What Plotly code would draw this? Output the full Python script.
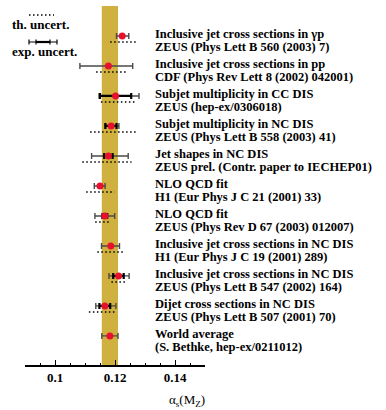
import plotly.graph_objects as go

# ---------------- data ----------------
titles = [
    "Inclusive jet cross sections in γp",
    "Inclusive jet cross sections in pp",
    "Subjet multiplicity in CC DIS",
    "Subjet multiplicity in NC DIS",
    "Jet shapes in NC DIS",
    "NLO QCD fit",
    "NLO QCD fit",
    "Inclusive jet cross sections in NC DIS",
    "Inclusive jet cross sections in NC DIS",
    "Dijet cross sections in NC DIS",
    "World average",
]
refs = [
    "ZEUS (Phys Lett B 560 (2003) 7)",
    "CDF (Phys Rev Lett 8 (2002) 042001)",
    "ZEUS (hep-ex/0306018)",
    "ZEUS (Phys Lett B 558 (2003) 41)",
    "ZEUS prel. (Contr. paper to IECHEP01)",
    "H1 (Eur Phys J C 21 (2001) 33)",
    "ZEUS (Phys Rev D 67 (2003) 012007)",
    "H1 (Eur Phys J C 19 (2001) 289)",
    "ZEUS (Phys Lett B 547 (2002) 164)",
    "ZEUS (Phys Lett B 507 (2001) 70)",
    "(S. Bethke, hep-ex/0211012)",
]
alphas = [0.1224, 0.1178, 0.1202, 0.1187, 0.1178, 0.1150, 0.1166, 0.1186, 0.1212, 0.1166, 0.1183]
# statistical (inner) errors: None where not shown
stat_lo = [None, None, 0.1150, 0.1168, 0.1164, None, 0.1158, None, 0.1194, 0.1148, None]
stat_hi = [None, None, 0.1254, 0.1205, 0.1192, None, 0.1174, None, 0.1229, 0.1184, None]
# total experimental errors
exp_lo = [0.1205, 0.1083, 0.1147, 0.1167, 0.1122, 0.1131, 0.1133, 0.1155, 0.1180, 0.1136, 0.1156]
exp_hi = [0.1246, 0.1259, 0.1280, 0.1213, 0.1244, 0.1167, 0.1199, 0.1215, 0.1247, 0.1203, 0.1210]
# theoretical uncertainties (dotted)
th_lo = [0.1184, 0.1137, 0.1153, 0.1117, 0.1091, 0.1104, 0.1134, 0.1141, 0.1188, 0.1113, None]
th_hi = [0.1270, 0.1243, 0.1265, 0.1270, 0.1255, 0.1198, 0.1187, 0.1234, 0.1237, 0.1206, None]
world_avg = 0.1183
world_err = 0.0027

x_range = [0.09, 0.15]
tick_vals = [0.1, 0.12, 0.14]
tick_text = ["0.1", "0.12", "0.14"]

FONT = "Liberation Serif"
RED = "#e8112d"
BAND = "#d0b03e"

n = len(alphas)
rows = list(range(n))

fig = go.Figure()

# world average band
fig.add_shape(type="rect", xref="x", yref="paper",
              x0=world_avg - world_err, x1=world_avg + world_err, y0=0, y1=1,
              fillcolor=BAND, line_width=0, layer="below")

# theory dotted lines
for i in rows:
    if th_lo[i] is None:
        continue
    fig.add_trace(go.Scatter(
        x=[th_lo[i], th_hi[i]], y=[i + 0.2, i + 0.2], mode="lines",
        line=dict(color="black", width=1.5, dash="1.5px,2.5px"),
        hoverinfo="skip", showlegend=False))

# outer (total experimental) error bars
fig.add_trace(go.Scatter(
    x=alphas, y=rows, mode="markers",
    marker=dict(size=1, color="rgba(0,0,0,0)"),
    error_x=dict(type="data", symmetric=False,
                 array=[exp_hi[i] - alphas[i] for i in rows],
                 arrayminus=[alphas[i] - exp_lo[i] for i in rows],
                 color="#4a4a4a", thickness=1.4, width=3),
    showlegend=False, hoverinfo="skip"))

# inner (statistical) error bars
si = [i for i in rows if stat_lo[i] is not None]
fig.add_trace(go.Scatter(
    x=[alphas[i] for i in si], y=si, mode="markers",
    marker=dict(size=1, color="rgba(0,0,0,0)"),
    error_x=dict(type="data", symmetric=False,
                 array=[stat_hi[i] - alphas[i] for i in si],
                 arrayminus=[alphas[i] - stat_lo[i] for i in si],
                 color="black", thickness=2.2, width=3),
    showlegend=False, hoverinfo="skip"))

# central values
fig.add_trace(go.Scatter(
    x=alphas, y=rows, mode="markers",
    marker=dict(size=7, color=RED, line_width=0),
    showlegend=False))

# labels
for i in rows:
    fig.add_annotation(x=0.1327, y=i - 0.06, xref="x", yref="y", text="<b>%s</b>" % titles[i],
                       showarrow=False, xanchor="left", yanchor="middle",
                       font=dict(family=FONT, size=12.5, color="black"))
    fig.add_annotation(x=0.1327, y=i + 0.37, xref="x", yref="y", text="<b>%s</b>" % refs[i],
                       showarrow=False, xanchor="left", yanchor="middle",
                       font=dict(family=FONT, size=12.5, color="black"))

# legend (drawn by hand, paper coordinates)
def px(x):
    return (x - 25) / 180.0

def py(y):
    return (365 - y) / 359.0

fig.add_shape(type="line", xref="paper", yref="paper", x0=px(29), x1=px(54), y0=py(15), y1=py(15),
              line=dict(color="black", width=1.5, dash="1.5px,2.5px"))
fig.add_shape(type="line", xref="paper", yref="paper", x0=px(29), x1=px(57), y0=py(42), y1=py(42),
              line=dict(color="#4a4a4a", width=1.4))
fig.add_shape(type="line", xref="paper", yref="paper", x0=px(36), x1=px(50), y0=py(42), y1=py(42),
              line=dict(color="black", width=2.2))
for cx in (29, 36, 50, 57):
    fig.add_shape(type="line", xref="paper", yref="paper", x0=px(cx), x1=px(cx),
                  y0=py(39.5), y1=py(44.5), line=dict(color="black", width=1.2))
fig.add_annotation(x=px(10), y=py(24), xref="paper", yref="paper", text="<b>th. uncert.</b>",
                   showarrow=False, xanchor="left", yanchor="middle",
                   font=dict(family=FONT, size=13, color="black"))
fig.add_annotation(x=px(10), y=py(52), xref="paper", yref="paper", text="<b>exp. uncert.</b>",
                   showarrow=False, xanchor="left", yanchor="middle",
                   font=dict(family=FONT, size=13, color="black"))

# axis title
fig.add_annotation(x=1.01, y=py(400), xref="paper", yref="paper",
                   text="α<sub>s</sub>(M<sub>Z</sub>)",
                   showarrow=False, xanchor="right", yanchor="middle",
                   font=dict(family=FONT, size=13, color="black"))

fig.update_layout(
    width=386, height=410,
    margin=dict(l=25, r=181, t=6, b=45),
    paper_bgcolor="white", plot_bgcolor="white",
    showlegend=False,
    xaxis=dict(range=x_range, tickvals=tick_vals, ticktext=tick_text,
               ticks="inside", ticklen=5, tickwidth=1, tickcolor="black",
               showline=True, linecolor="black", linewidth=1.5,
               showgrid=False, zeroline=False,
               tickfont=dict(family=FONT, size=13, color="black", weight="bold"),
               minor=dict(dtick=0.005, tick0=0.09, ticks="inside", ticklen=2.5,
                          tickcolor="black", tickwidth=1, showgrid=False)),
    yaxis=dict(range=[10.97, -1.0], visible=False, showgrid=False, zeroline=False),
)

fig.write_html("out.html")
